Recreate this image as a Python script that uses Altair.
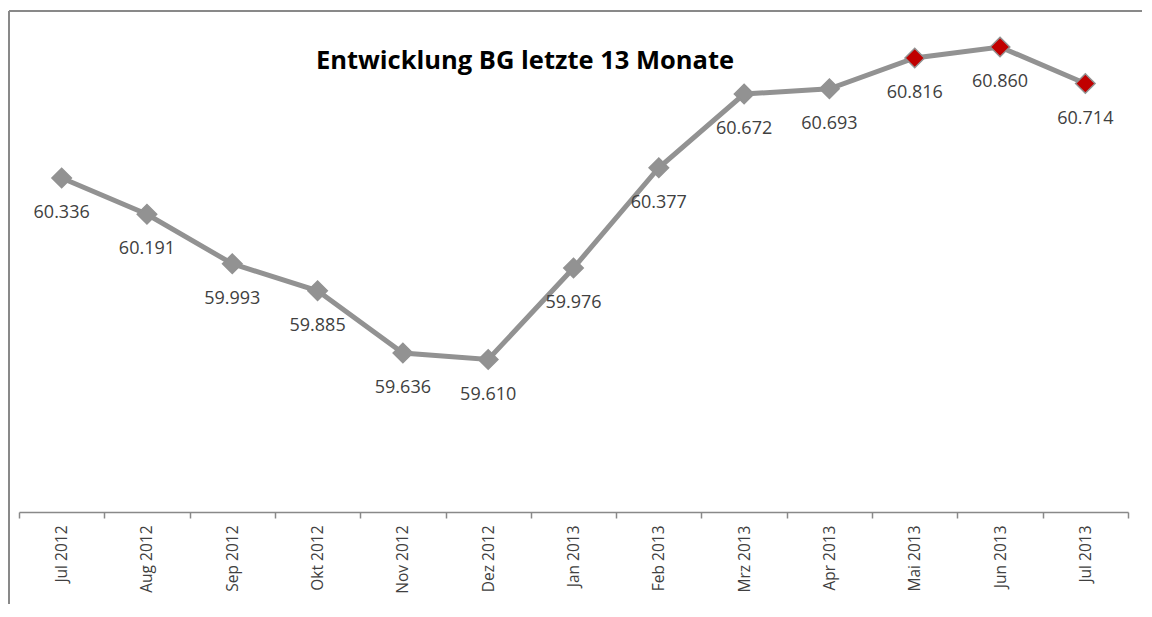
import altair as alt
import pandas as pd

months = ["Jul 2012", "Aug 2012", "Sep 2012", "Okt 2012", "Nov 2012", "Dez 2012",
          "Jan 2013", "Feb 2013", "Mrz 2013", "Apr 2013", "Mai 2013", "Jun 2013", "Jul 2013"]
values = [60.336, 60.191, 59.993, 59.885, 59.636, 59.610,
          59.976, 60.377, 60.672, 60.693, 60.816, 60.860, 60.714]
labels = ["60.336", "60.191", "59.993", "59.885", "59.636", "59.610",
          "59.976", "60.377", "60.672", "60.693", "60.816", "60.860", "60.714"]
highlight = [False] * 10 + [True] * 3
title_text = "Entwicklung BG letzte 13 Monate"

df = pd.DataFrame({"month": months, "value": values, "label": labels, "hl": highlight})

W, H = 1109, 500
PAD = {"left": 11, "top": 4, "right": 14, "bottom": 92}
FONT = "Open Sans"
GRAY = "#929292"
BORDER = "#898989"

x_enc = alt.X("month:N", sort=months, title=None,
              scale=alt.Scale(type="band", paddingInner=0, paddingOuter=0),
              axis=alt.Axis(labelAngle=270, labelAlign="right", labelBaseline="middle",
                            labelFont=FONT, labelFontSize=15.5, labelColor="#404040",
                            labelPadding=7, tickBand="extent", tickSize=6,
                            tickColor=BORDER, domainColor=BORDER, domainWidth=1.5,
                            tickWidth=1.5, grid=False))
y_enc = alt.Y("value:Q", title=None,
              scale=alt.Scale(domain=[59.0, 61.0], nice=False, zero=False),
              axis=None)

base = alt.Chart(df).encode(x=x_enc, y=y_enc)

line = base.mark_line(color=GRAY, strokeWidth=5)
pts = base.mark_point(shape="diamond", filled=True, size=380, opacity=1).encode(
    fill=alt.condition("datum.hl", alt.value("#C00000"), alt.value(GRAY)),
    stroke=alt.value(GRAY), strokeWidth=alt.value(1.5))
txt = base.mark_text(font=FONT, fontSize=18, color="#404040", dy=35,
                     baseline="middle", align="center").encode(text="label:N")

one = pd.DataFrame({"t": [title_text]})
title = alt.Chart(one).mark_text(font=FONT, fontSize=25.5, fontWeight="bold", color="#000000",
                                 align="center", baseline="alphabetic").encode(
    text="t:N", x=alt.value(506), y=alt.value(57))
top_border = alt.Chart(one).mark_rule(color=BORDER, strokeWidth=2).encode(
    x=alt.value(-10), x2=alt.value(W + PAD["right"] + 20), y=alt.value(-1))
left_border = alt.Chart(one).mark_rule(color=BORDER, strokeWidth=2).encode(
    x=alt.value(-10), y=alt.value(-1), y2=alt.value(H + PAD["bottom"] + 20))

chart = alt.layer(top_border, left_border, line, pts, txt, title).properties(
    width=W, height=H, padding=PAD,
    autosize=alt.AutoSizeParams(type="none"),
    background="white",
).configure_view(stroke=None)

chart.save("out.html", embed_options={"renderer": "svg", "actions": False})
